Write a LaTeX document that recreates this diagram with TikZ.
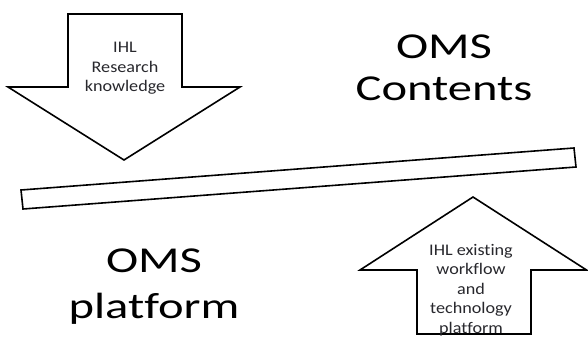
\documentclass[tikz,border=0pt]{standalone}
\usepackage{fontspec}
\setmainfont{Carlito}[Ligatures=NoCommon]
\newfontfamily\smallf[FakeStretch=1.12,Ligatures=NoCommon]{Carlito}
\newfontfamily\bigf[FakeStretch=1.33,Ligatures=NoCommon]{Carlito}
\definecolor{txtgray}{RGB}{40,40,45}
\begin{document}
\begin{tikzpicture}[x=1pt,y=-1pt,
  shapeline/.style={draw=black,line width=1.6pt,line join=miter,fill=white},
  smalltxt/.style={font=\smallf\fontsize{16.2}{19.6}\selectfont,text=txtgray,align=center,inner sep=0pt},
  bigtxt/.style={font=\bigf\fontsize{36.5}{44}\selectfont,text=black,inner sep=0pt,anchor=base}]
\useasboundingbox (0,0) rectangle (588,345);
% down arrow
\draw[shapeline] (68,14) -- (182,14) -- (182,87) -- (240,87) -- (124,160) -- (8,87) -- (68,87) -- cycle;
\node[smalltxt] (research) at (125,68.5) {IHL\\Research\\knowledge};
% up arrow
\draw[shapeline] (473,197) -- (586.5,270) -- (531,270) -- (531,334) -- (417,334) -- (417,270) -- (360,270) -- cycle;
\node[smalltxt] (workflow) at (471,290) {IHL existing\\workflow\\and\\technology\\platform};
% bar
\draw[shapeline] (21,190) -- (574,148) -- (576,167) -- (23,209) -- cycle;
% big texts
\node[bigtxt] (omsc1) at (444,58) {OMS};
\node[bigtxt] (omsc2) at (444,100) {Contents};
\node[bigtxt] (omsp1) at (154,272) {OMS};
\node[bigtxt] (omsp2) at (154,318) {platform};
\end{tikzpicture}
\end{document}
